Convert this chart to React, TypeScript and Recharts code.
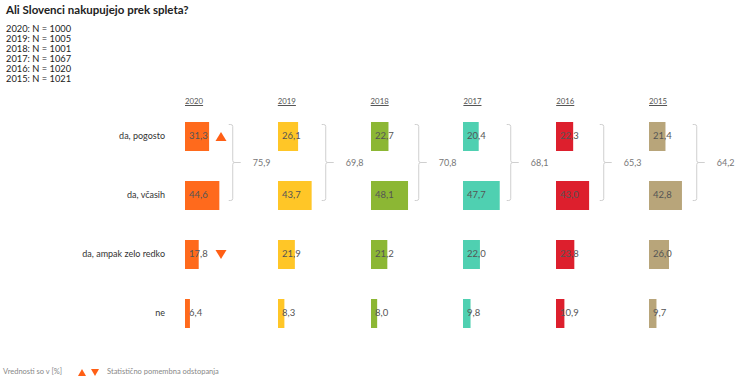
import React from 'react';
import { BarChart, Bar, XAxis, YAxis, Cell, LabelList, ReferenceLine } from 'recharts';

const years = ['2020', '2019', '2018', '2017', '2016', '2015'];
const sampleSizes = [1000, 1005, 1001, 1067, 1020, 1021];
const categories = ['da, pogosto', 'da, včasih', 'da, ampak zelo redko', 'ne'];

const values2020 = [31.3, 44.6, 17.8, 6.4];
const values2019 = [26.1, 43.7, 21.9, 8.3];
const values2018 = [22.7, 48.1, 21.2, 8.0];
const values2017 = [20.4, 47.7, 22.0, 9.8];
const values2016 = [22.3, 43.0, 23.8, 10.9];
const values2015 = [21.4, 42.8, 26.0, 9.7];

// "da" skupaj (pogosto + včasih)
const totals = [75.9, 69.8, 70.8, 68.1, 65.3, 64.2];

// statistically significant change (2020 only)
const sig2020 = ['up', null, 'down', null];

const colors = ['#FF6A1C', '#FFC627', '#8CB734', '#4FD0B1', '#DD1F2D', '#B8A57A'];
const allValues = [values2020, values2019, values2018, values2017, values2016, values2015];

const FONT = 'Lato, "Noto Sans", sans-serif';
const fmt = (v: number) => v.toFixed(1).replace('.', ',');

const COL_START = 185;
const COL_STEP = 92.8;
const PLOT_W = 77;
const TOP = 107;
const H = 236;

const Bracket = (p: any) => {
  const x = p.x1;
  const top = p.y1 - 12;
  const bot = p.y2 + 5;
  const mid = (top + bot) / 2;
  const d = `M ${x - 4} ${top} L ${x - 2} ${top} Q ${x} ${top} ${x} ${top + 2} L ${x} ${mid - 2} Q ${x} ${mid} ${x + 2} ${mid} L ${x + 8} ${mid} M ${x + 2} ${mid} Q ${x} ${mid} ${x} ${mid + 2} L ${x} ${bot - 2} Q ${x} ${bot} ${x - 2} ${bot} L ${x - 4} ${bot}`;
  return (
    <g>
      <path d={d} fill="none" stroke="#cfcfcf" strokeWidth={1} />
      <text x={x + 20} y={mid + 1} dominantBaseline="middle" fontSize={9} fill="#777" fontFamily={FONT}>
        {p.total}
      </text>
    </g>
  );
};

const ValueLabel = (p: any) => (
  <text x={p.x + 4} y={p.y + p.height / 2 + 0.5} dominantBaseline="middle" fontSize={9.5} fill="#555" fontFamily={FONT}>
    {fmt(Number(p.value))}
  </text>
);

const SigMarker = (p: any) => {
  const s = sig2020[p.index];
  if (!s) return null;
  const cx = p.x + 36;
  const cy = p.y + p.height / 2;
  const pts = s === 'up'
    ? `${cx - 5.5},${cy + 4.5} ${cx + 5.5},${cy + 4.5} ${cx},${cy - 4.5}`
    : `${cx - 5.5},${cy - 4.5} ${cx + 5.5},${cy - 4.5} ${cx},${cy + 4.5}`;
  return <polygon points={pts} fill="#FF5F15" />;
};

const RowTick = (p: any) => (
  <text x={p.x} y={p.y} textAnchor="end" dominantBaseline="middle" fontSize={9} fill="#333" fontFamily={FONT}>
    {p.payload.value}
  </text>
);

const YearColumn = ({ idx }: { idx: number }) => {
  const first = idx === 0;
  const data = categories.map((c, i) => ({ cat: c, value: allValues[idx][i] }));
  const axisW = first ? COL_START : 0;
  const left = first ? 0 : COL_START + idx * COL_STEP;
  return (
    <div style={{ position: 'absolute', left, top: TOP }}>
      <BarChart
        width={axisW + PLOT_W + 16}
        height={H}
        data={data}
        layout="vertical"
        margin={{ top: 0, right: 16, bottom: 0, left: 0 }}
      >
        <XAxis type="number" domain={[0, 100]} hide />
        <YAxis
          type="category"
          dataKey="cat"
          width={axisW}
          hide={!first}
          axisLine={false}
          tickLine={false}
          tickMargin={14}
          tick={<RowTick />}
        />
        <Bar dataKey="value" barSize={29} isAnimationActive={false}>
          {data.map((d) => (
            <Cell key={d.cat} fill={colors[idx]} />
          ))}
          <LabelList dataKey="value" content={<ValueLabel />} />
          {first && <LabelList dataKey="value" content={<SigMarker />} />}
        </Bar>
        <ReferenceLine
          segment={[{ x: 62, y: categories[0] }, { x: 62, y: categories[1] }]}
          ifOverflow="visible"
          shape={(p: any) => <Bracket {...p} total={fmt(totals[idx])} />}
        />
      </BarChart>
    </div>
  );
};

const Tri = ({ up }: { up: boolean }) => (
  <svg width={8} height={7} style={{ display: 'block' }}>
    <polygon points={up ? '0,7 8,7 4,0' : '0,0 8,0 4,7'} fill="#FF5F15" />
  </svg>
);

export default function App() {
  return (
    <div style={{ position: 'absolute', left: 0, top: 0, width: 736, height: 389, background: '#fff', fontFamily: FONT, overflow: 'hidden' }}>
      <div style={{ position: 'absolute', left: 6, top: 3, fontSize: 11.5, fontWeight: 700, color: '#222', lineHeight: '14px' }}>
        Ali Slovenci nakupujejo prek spleta?
      </div>
      <div style={{ position: 'absolute', left: 6, top: 24, fontSize: 9.3, color: '#222', lineHeight: '10px' }}>
        {years.map((y, i) => (
          <div key={y}>{`${y}: N = ${sampleSizes[i]}`}</div>
        ))}
      </div>
      {years.map((y, i) => (
        <div
          key={y}
          style={{
            position: 'absolute',
            left: COL_START + i * COL_STEP,
            top: 95,
            fontSize: 7.8,
            color: '#555',
            textDecoration: 'underline',
            lineHeight: '12px',
          }}
        >
          {y}
        </div>
      ))}
      {years.map((y, i) => (
        <YearColumn key={y} idx={i} />
      ))}
      <div style={{ position: 'absolute', left: 3, top: 366, display: 'flex', alignItems: 'center', fontSize: 7.5, color: '#888', lineHeight: '12px' }}>
        <span>Vrednosti so v [%]</span>
        <span style={{ marginLeft: 16, display: 'flex', gap: 5 }}>
          <Tri up />
          <Tri up={false} />
        </span>
        <span style={{ marginLeft: 8 }}>Statistično pomembna odstopanja</span>
      </div>
    </div>
  );
}
